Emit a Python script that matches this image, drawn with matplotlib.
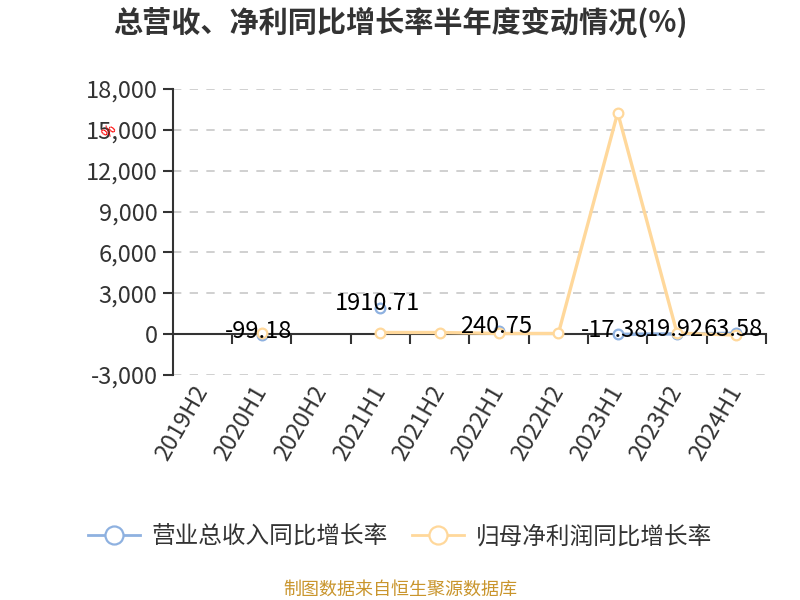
import numpy as np
import matplotlib
matplotlib.use("Agg")
import matplotlib.pyplot as plt

plt.rcParams['font.family'] = ['Noto Sans CJK SC', 'DejaVu Sans']

periods = ["2019H2", "2020H1", "2020H2", "2021H1", "2021H2",
           "2022H1", "2022H2", "2023H1", "2023H2", "2024H1"]
revenue_yoy = [np.nan, -99.18, np.nan, 1910.71, np.nan,
               240.75, np.nan, -17.38, 19.92, 63.58]
profit_yoy = [np.nan, 50, np.nan, 120, 120,
              50, 50, 16260, 80, -70]
yticks = [-3000, 0, 3000, 6000, 9000, 12000, 15000, 18000]

blue = "#8eb1e0"
yellow = "#ffd89b"
dark = "#333333"

fig = plt.figure(figsize=(8, 6), dpi=100)
ax = fig.add_axes([0.216, 0.375, 0.7415, 0.4767])

x = np.arange(len(periods))
ax.plot(x, revenue_yoy, color=blue, lw=2.4, marker="o", ms=7,
        mfc="white", mec=blue, mew=1.6, zorder=3)
ax.plot(x, profit_yoy, color=yellow, lw=2.4, marker="o", ms=7,
        mfc="white", mec=yellow, mew=1.6, zorder=4)

for xi, v in zip(x, revenue_yoy):
    if not np.isnan(v):
        ax.annotate(f"{v:.2f}", (xi, v), xytext=(-2, 3), textcoords="offset points",
                    ha="center", va="center", fontsize=17, color="black", zorder=6)

ax.set_xlim(-0.5, len(periods) - 0.5)
ax.set_ylim(yticks[0], yticks[-1])
ax.set_yticks(yticks)
ax.set_yticklabels([f"{t:,}" for t in yticks], fontsize=17, color=dark)
ax.yaxis.grid(True, ls=(0, (5, 5)), color="#c8c8c8", lw=1.2)
ax.set_axisbelow(True)

for s in ["top", "right"]:
    ax.spines[s].set_visible(False)
ax.spines["left"].set_color(dark)
ax.spines["left"].set_linewidth(1.5)
ax.spines["bottom"].set_position(("data", 0))
ax.spines["bottom"].set_color(dark)
ax.spines["bottom"].set_linewidth(1.5)
ax.tick_params(axis="y", length=7, width=1.5, color=dark, pad=4)

ax.set_xticks(np.arange(len(periods)) + 0.5)
ax.tick_params(axis="x", length=7, width=1.5, color=dark, labelbottom=False)

sec = ax.secondary_xaxis(0)
sec.set_xticks(x)
sec.set_xticklabels(periods, rotation=60, ha="right", va="center",
                    rotation_mode="anchor", fontsize=17, color=dark)
sec.tick_params(length=0, pad=9)
sec.spines["bottom"].set_visible(False)

fig.text(0.137, 0.78, "%", color="red", fontsize=10, rotation=50,
         ha="center", va="center")

fig.text(0.5, 0.962, "总营收、净利同比增长率半年度变动情况(%)", ha="center", va="center",
         fontsize=21, fontweight="bold", color=dark)

handles = [
    plt.Line2D([], [], color=blue, lw=2, marker="o", ms=13, mfc="white",
               mec=blue, mew=1.6),
    plt.Line2D([], [], color=yellow, lw=2, marker="o", ms=13, mfc="white",
               mec=yellow, mew=1.6),
]
fig.legend(handles, ["营业总收入同比增长率", "归母净利润同比增长率"],
           loc="center", bbox_to_anchor=(0.5, 0.105), ncol=2, frameon=False,
           fontsize=17, handlelength=2.2, handletextpad=0.5,
           columnspacing=1.0, labelcolor=dark)

fig.text(0.5, 0.017, "制图数据来自恒生聚源数据库", ha="center", va="center",
         fontsize=13, color="#c9952c")

fig.savefig("out.png", dpi=100)
